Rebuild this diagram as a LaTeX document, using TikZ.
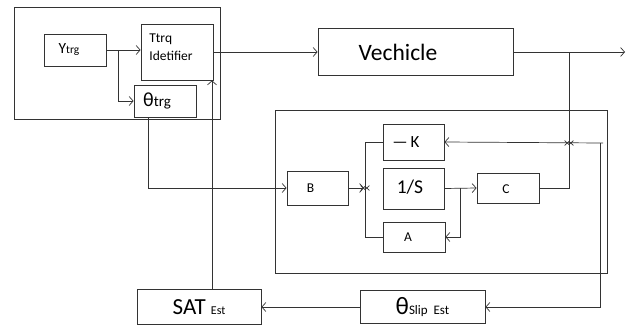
\documentclass[tikz,border=0pt]{standalone}
\usepackage{fontspec}
\setmainfont{Carlito}
\usetikzlibrary{arrows.meta}
\begin{document}
\begin{tikzpicture}[x=1pt,y=-1pt,
  line width=0.8pt, draw=black!80,
  box/.style={draw=black!80, line width=0.8pt, inner sep=0pt, anchor=center},
  txt/.style={inner sep=0pt, anchor=center},
  conn/.style={draw=black!80, line width=0.7pt, -{Straight Barb[length=4pt,width=9pt,line width=0.7pt]}}]
\useasboundingbox (0,0) rectangle (626,327);
% frames
\node[box, minimum width=206pt, minimum height=112pt] (outer) at (117,63) {};
\node[box, minimum width=332pt, minimum height=163pt] (inner) at (441,191.5) {};
% top group
\node[box, minimum width=62pt, minimum height=32pt] (ytrg) at (75,50) {};
\node[txt] (ytrgtxt) at (69,50) {\fontsize{15.5}{18}\selectfont Y\fontsize{11.5}{13}\selectfont trg};
\node[box, minimum width=72pt, minimum height=56pt] (ttrq) at (177,52) {};
\node[anchor=west, align=left, inner sep=0pt, font=\fontsize{13.5}{18}\selectfont] (ttrqtxt) at (149,47) {Ttrq\\Idetifier};
\node[box, minimum width=62pt, minimum height=32pt] (thtrg) at (165,101) {};
\node[txt] (thtrgtxt) at (157,101) {\fontsize{20}{22}\selectfont θ\fontsize{15}{17}\selectfont trg};
\node[box, minimum width=195pt, minimum height=47pt] (vech) at (415.5,52) {};
\node[txt] (vechtxt) at (398,52) {\fontsize{23.5}{26}\selectfont Vechicle};
% inner blocks
\node[box, minimum width=61pt, minimum height=36pt] (negk) at (413.5,142) {};
\node[txt] (negktxt) at (406,142) {\fontsize{17}{19}\selectfont —\,K};
\node[box, minimum width=61pt, minimum height=34pt] (bbox) at (317.5,188) {};
\node[txt] (bboxtxt) at (310.5,188) {\fontsize{13.5}{15}\selectfont B};
\node[box, minimum width=61pt, minimum height=41pt] (inv) at (413.5,188.5) {};
\node[txt] (invtxt) at (410,187) {\fontsize{19.5}{21}\selectfont 1/S};
\node[box, minimum width=62pt, minimum height=30pt] (cbox) at (508,188) {};
\node[txt] (cboxtxt) at (506,189) {\fontsize{13.5}{15}\selectfont C};
\node[box, minimum width=62pt, minimum height=30pt] (abox) at (414,237) {};
\node[txt] (aboxtxt) at (408,237) {\fontsize{13.5}{15}\selectfont A};
% bottom blocks
\node[box, minimum width=125pt, minimum height=33pt] (slip) at (422.5,307) {\fontsize{25}{27}\selectfont θ\fontsize{13}{15}\selectfont Slip\ \ Est};
\node[box, minimum width=124pt, minimum height=35pt] (sat) at (199,307) {\fontsize{23}{25}\selectfont SAT\ \fontsize{12}{14}\selectfont Est};
% junction coordinates
\coordinate (s1) at (365,188);
\coordinate (s2) at (569,143);
\coordinate (br1) at (118,50);
\coordinate (br2) at (569,52);
\coordinate (out) at (625,52);
\coordinate (rc) at (603,143);
\coordinate (rdown) at (600,143);
\coordinate (br3) at (460,188);
% connectors
\draw[conn] (ytrg.east) -- (ttrq.west |- ytrg.east);
\draw[conn] (br1) |- (thtrg.west);
\draw[conn] (thtrg.south -| 148,0) |- (bbox.west);
\draw[conn] (ttrq.east) -- (vech.west);
\draw[conn] (vech.east) -- (out);
\draw[conn] (br2) -- ([yshift=-2pt]s2);
\draw[conn] (cbox.east) -| ([yshift=2pt]s2);
\draw[conn] (rc) -- (negk.east);
\draw[conn] (rdown) |- (slip.east);
\draw[conn] (slip.west) -- (sat.east);
\draw[conn] (sat.north -| 212,0) -- (ttrq.south -| 212,0);
\draw[conn] (bbox.east) -- ([xshift=-1pt]s1);
\draw[conn] (negk.west) -| ([yshift=-2pt]s1);
\draw[conn] (abox.west) -| ([yshift=2pt]s1);
\draw[conn] (inv.east) -- (cbox.west);
\draw[conn] (br3) |- (abox.east);
\end{tikzpicture}
\end{document}
